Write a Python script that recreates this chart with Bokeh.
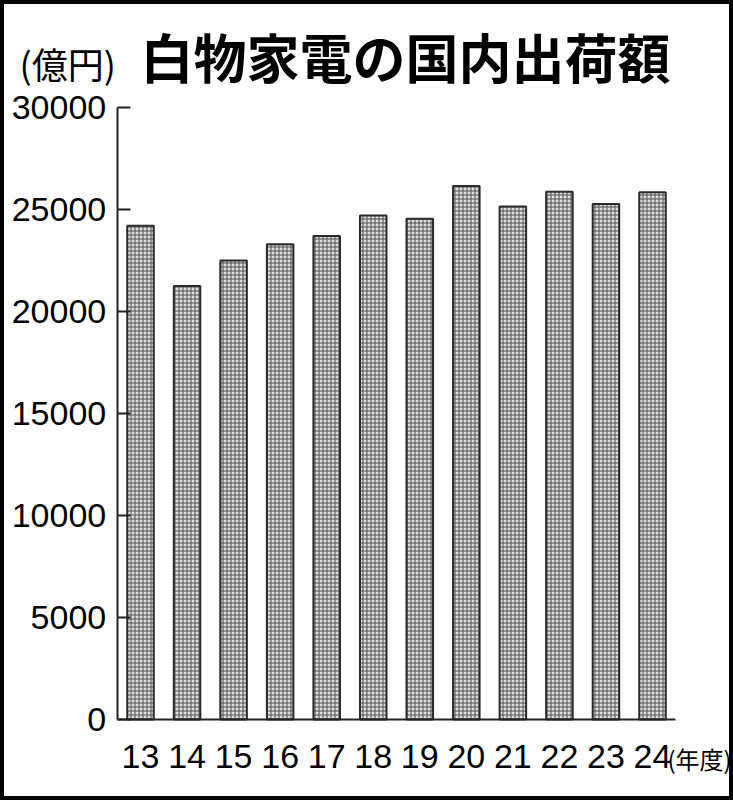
from bokeh.plotting import figure
from bokeh.models import Range1d, FixedTicker, Label
from bokeh.embed import file_html
from bokeh.resources import INLINE

# 白物家電の国内出荷額 (億円), 年度 2013-2024
years = [13, 14, 15, 16, 17, 18, 19, 20, 21, 22, 23, 24]
year_labels = ["13", "14", "15", "16", "17", "18", "19", "20", "21", "22", "23", "24"]
shipments = [24200, 21250, 22500, 23300, 23700, 24700, 24550, 26150, 25150, 25870, 25270, 25840]
y_ticks = [0, 5000, 10000, 15000, 20000, 25000, 30000]

FONT = "Liberation Sans"

# the frame fills the whole canvas; axes sit inside it at fixed data locations
p = figure(width=733, height=800, output_backend="svg", toolbar_location=None,
           title=None, x_range=Range1d(9.992, 25.74), y_range=Range1d(-3970, 35245),
           min_border=0)
p.outline_line_color = "black"
p.outline_line_width = 7
p.grid.visible = False
p.background_fill_color = "white"
p.border_fill_color = "white"

p.vbar(x=years, top=shipments, width=0.57, bottom=0,
       fill_color="#dedede", line_color="#2a2a2a", line_width=2,
       hatch_pattern="+", hatch_scale=4, hatch_color="#505050", hatch_weight=1)

ya = p.yaxis[0]
ya.fixed_location = 12.5
ya.bounds = (0, 30000)
ya.ticker = FixedTicker(ticks=y_ticks)
ya.formatter.use_scientific = False
ya.axis_line_width = 2
ya.axis_line_color = "#222222"
ya.major_tick_in = 13
ya.major_tick_out = 0
ya.major_tick_line_width = 2
ya.major_tick_line_color = "#222222"
ya.minor_tick_line_color = None
ya.major_label_standoff = 11
ya.major_label_text_font = FONT
ya.major_label_text_font_size = "34px"
ya.major_label_text_color = "black"

xa = p.xaxis[0]
xa.fixed_location = 0
xa.bounds = (12.5, 24.5)
xa.ticker = FixedTicker(ticks=years)
xa.major_label_overrides = {y: s for y, s in zip(years, year_labels)}
xa.axis_line_width = 2
xa.axis_line_color = "#222222"
xa.major_tick_line_color = None
xa.minor_tick_line_color = None
xa.major_label_standoff = 19
xa.major_label_text_font = FONT
xa.major_label_text_font_size = "34px"
xa.major_label_text_color = "black"

p.add_layout(Label(x=140, y=745, x_units="screen", y_units="screen",
                   text="白物家電の国内出荷額", text_baseline="middle",
                   text_font="Noto Sans CJK JP", text_font_style="bold",
                   text_font_size="53px", text_color="black"))
p.add_layout(Label(x=19, y=738, x_units="screen", y_units="screen",
                   text="(億円)", text_baseline="middle",
                   text_font="Noto Sans CJK JP", text_font_size="36px", text_color="black"))
p.add_layout(Label(x=667, y=42, x_units="screen", y_units="screen",
                   text="(年度)", text_baseline="middle",
                   text_font="Noto Sans CJK JP", text_font_size="24px", text_color="black"))

open("out.html", "w").write(file_html(p, INLINE))
